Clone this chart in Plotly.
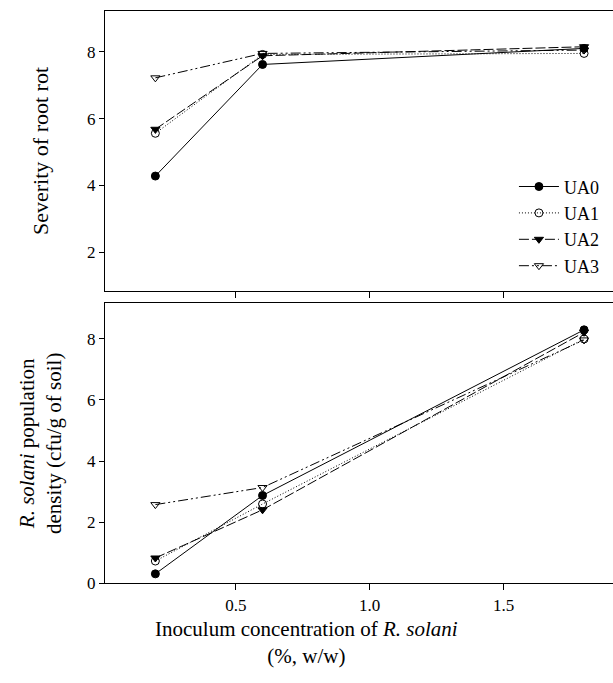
import plotly.graph_objects as go

# ---- data ----
conc = [0.2, 0.6, 1.8]
series_names = ["UA0", "UA1", "UA2", "UA3"]
severity_UA0 = [4.28, 7.62, 8.10]
severity_UA1 = [5.56, 7.92, 7.95]
severity_UA2 = [5.68, 7.88, 8.15]
severity_UA3 = [7.22, 7.95, 8.05]
density_UA0 = [0.30, 2.87, 8.30]
density_UA1 = [0.72, 2.59, 8.00]
density_UA2 = [0.82, 2.40, 8.22]
density_UA3 = [2.57, 3.13, 7.97]
top_ticks = [2, 4, 6, 8]
bottom_ticks = [0, 2, 4, 6, 8]
x_ticks = [0.5, 1.0, 1.5]
x_tick_labels = ["0.5", "1.0", "1.5"]

severity = [severity_UA0, severity_UA1, severity_UA2, severity_UA3]
density = [density_UA0, density_UA1, density_UA2, density_UA3]

styles = [
    dict(dash="solid", symbol="circle"),
    dict(dash="1px,2px", symbol="circle-open"),
    dict(dash="10px,3px", symbol="triangle-down"),
    dict(dash="10px,3px,2px,3px,2px,3px", symbol="triangle-down-open"),
]

FONT = "Liberation Serif"

fig = go.Figure()
for i, name in enumerate(series_names):
    st = styles[i]
    fig.add_trace(go.Scatter(
        x=conc, y=severity[i], name=name, mode="lines+markers",
        line=dict(color="black", width=1, dash=st["dash"]),
        marker=dict(symbol=st["symbol"], size=8, color="black",
                    line=dict(color="black", width=1)),
        xaxis="x", yaxis="y", legendgroup=name, showlegend=True,
    ))
for i, name in enumerate(series_names):
    st = styles[i]
    fig.add_trace(go.Scatter(
        x=conc, y=density[i], name=name, mode="lines+markers",
        line=dict(color="black", width=1, dash=st["dash"]),
        marker=dict(symbol=st["symbol"], size=8, color="black",
                    line=dict(color="black", width=1)),
        xaxis="x2", yaxis="y2", legendgroup=name, showlegend=False,
    ))

W, H = 613, 683
ml, mr, mt, mb = 105, 0, 11, 100
ph = H - mt - mb  # 572
top_dom = [(583 - 291) / ph, 1.0]
bot_dom = [0.0, (583 - 303) / ph]

axis_common = dict(showline=True, linecolor="black", linewidth=1.2,
                   ticks="outside", tickcolor="black", tickwidth=1,
                   showgrid=False, zeroline=False,
                   tickfont=dict(family=FONT, size=17, color="black"))

fig.update_layout(
    width=W, height=H,
    margin=dict(l=ml, r=mr, t=mt, b=mb),
    paper_bgcolor="white", plot_bgcolor="white",
    font=dict(family=FONT, color="black"),
    xaxis=dict(domain=[0, 1], anchor="y", range=[0.012, 1.908],
               tickvals=x_ticks, ticktext=x_tick_labels, showticklabels=False,
               ticklen=6, mirror=True, **axis_common),
    yaxis=dict(domain=top_dom, anchor="x", range=[0.84, 9.22],
               tickvals=top_ticks, ticklen=5, **axis_common),
    xaxis2=dict(domain=[0, 1], anchor="y2", range=[0.012, 1.908],
                tickvals=x_ticks, ticktext=x_tick_labels,
                ticklen=6, mirror=True, **axis_common),
    yaxis2=dict(domain=bot_dom, anchor="x2", range=[0, 9.18],
                tickvals=bottom_ticks, ticklen=5, **axis_common),
    legend=dict(x=0.805, y=0.725, xanchor="left", yanchor="top",
                bgcolor="rgba(0,0,0,0)", borderwidth=0,
                font=dict(family=FONT, size=18, color="black"),
                tracegroupgap=0, itemwidth=40),
    annotations=[
        dict(text="Severity of root rot", xref="paper", yref="paper",
             x=-0.128, y=(top_dom[0] + top_dom[1]) / 2, textangle=-90,
             showarrow=False, xanchor="center", yanchor="middle",
             font=dict(family=FONT, size=22, color="black")),
        dict(text="<i>R. solani</i> population<br>density (cfu/g of soil)",
             xref="paper", yref="paper",
             x=-0.128, y=(bot_dom[0] + bot_dom[1]) / 2, textangle=-90,
             showarrow=False, xanchor="center", yanchor="middle",
             font=dict(family=FONT, size=21, color="black")),
        dict(text="Inoculum concentration of <i>R. solani</i><br>(%, w/w)",
             xref="paper", yref="paper",
             x=(306.5 - ml) / (W - ml), y=-0.056, showarrow=False,
             xanchor="center", yanchor="top",
             font=dict(family=FONT, size=21, color="black")),
    ],
)

fig.write_html("out.html")
